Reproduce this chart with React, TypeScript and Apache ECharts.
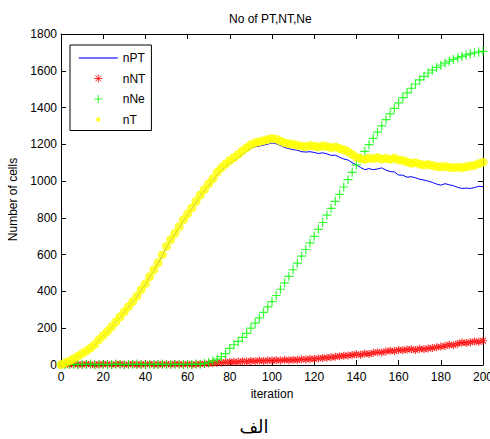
import React, { useEffect, useRef } from "react";
import * as echarts from "echarts";

const chartTitle = "No of PT,NT,Ne";
const xAxisName = "iteration";
const yAxisName = "Number of cells";
const caption = "الف";
const seriesNames = ["nPT", "nNT", "nNe", "nT"];
const xMin = 0;
const xMax = 200;
const xStep = 20;
const yMin = 0;
const yMax = 1800;
const yStep = 200;
const iterationStep = 2;

// values sampled every 2 iterations (0, 2, 4, ..., 200)
const nPT = [
  0, 10, 20, 32, 45, 60, 74, 90, 108, 135,
  157, 180, 205, 232, 258, 287, 315, 342, 372, 406,
  438, 476, 514, 552, 596, 640, 678, 712, 748, 785,
  818, 850, 886, 920, 948, 976, 1002, 1035, 1058, 1078,
  1096, 1110, 1128, 1145, 1163, 1176, 1187, 1190, 1196, 1201,
  1208, 1203, 1194, 1182, 1177, 1171, 1168, 1160, 1158, 1160,
  1156, 1150, 1154, 1148, 1140, 1141, 1130, 1120, 1115, 1100,
  1088, 1074, 1062, 1068, 1062, 1066, 1072, 1060, 1052, 1050,
  1033, 1032, 1021, 1024, 1018, 1010, 1006, 1000, 993, 984,
  978, 986, 980, 975, 966, 960, 962, 960, 965, 972,
  970,
];

const nNT = [
  2, 4, 1, 5, 3, 2, 6, 3, 1, 4,
  3, 5, 2, 4, 6, 2, 3, 5, 1, 4,
  3, 6, 2, 4, 3, 5, 2, 6, 4, 3,
  5, 2, 4, 6, 6, 8, 10, 12, 14, 15,
  16, 18, 17, 20, 19, 22, 21, 24, 22, 25,
  24, 26, 25, 28, 26, 29, 27, 31, 30, 33,
  34, 36, 38, 40, 42, 45, 48, 50, 52, 54,
  58, 56, 62, 60, 66, 70, 68, 74, 78, 76,
  82, 80, 84, 86, 82, 88, 86, 90, 92, 96,
  100, 104, 110, 108, 116, 122, 120, 124, 128, 126,
  132,
];

const nNe = [
  3, 2, 4, 3, 2, 4, 3, 5, 2, 3,
  4, 2, 3, 5, 3, 2, 4, 3, 5, 3,
  2, 4, 3, 3, 5, 2, 4, 3, 4, 3,
  4, 3, 5, 4, 8, 14, 22, 32, 46, 62,
  90, 110, 128, 150, 172, 200, 228, 256, 286, 316,
  345, 378, 412, 447, 482, 518, 554, 592, 628, 664,
  700, 738, 775, 815, 852, 890, 928, 968, 1008, 1048,
  1088, 1125, 1162, 1198, 1232, 1266, 1300, 1334, 1366, 1396,
  1425, 1454, 1480, 1505, 1528, 1550, 1570, 1588, 1604, 1618,
  1630, 1642, 1652, 1662, 1670, 1678, 1686, 1692, 1698, 1702,
  1706,
];

const nT = [
  2, 12, 22, 34, 48, 62, 76, 92, 112, 138,
  160, 183, 208, 235, 262, 290, 318, 345, 375, 410,
  442, 480, 518, 556, 600, 645, 682, 716, 752, 790,
  822, 855, 890, 924, 955, 985, 1013, 1048, 1072, 1093,
  1112, 1128, 1145, 1165, 1182, 1198, 1208, 1214, 1220, 1226,
  1232, 1228, 1218, 1208, 1203, 1200, 1195, 1190, 1188, 1193,
  1190, 1186, 1192, 1188, 1182, 1186, 1178, 1170, 1160, 1145,
  1130, 1122, 1118, 1125, 1122, 1128, 1120, 1124, 1118, 1125,
  1115, 1112, 1105, 1097, 1100, 1092, 1088, 1090, 1085, 1080,
  1078, 1080, 1075, 1073, 1076, 1072, 1078, 1082, 1086, 1095,
  1102,
];

const FONT = "'Liberation Sans', Arial, sans-serif";
const PLUS = "path://M0,-1L0,1M-1,0L1,0";
const STAR = "path://M0,-1L0,1M-1,0L1,0M-0.7,-0.7L0.7,0.7M-0.7,0.7L0.7,-0.7";
const LEGEND_LINE = "path://M0,-5M39,5M0,0L39,0";
const LEGEND_STAR = "path://M-1.25,-1.25M1.25,1.25M0,-1L0,1M-1,0L1,0M-0.7,-0.7L0.7,0.7M-0.7,0.7L0.7,-0.7";
const LEGEND_PLUS = "path://M-1.25,-1.25M1.25,1.25M0,-1L0,1M-1,0L1,0";
const LEGEND_DOT = "path://M-2.2,-2.2M2.2,2.2M0,-1A1,1,0,1,1,0,1A1,1,0,1,1,0,-1Z";

const pairs = (vals: number[]) => vals.map((v, i) => [i * iterationStep, v]);

export default function App() {
  const ref = useRef<HTMLDivElement>(null);
  useEffect(() => {
    if (!ref.current) return;
    const chart = echarts.init(ref.current, null, { renderer: "svg" });
    const axisCommon = {
      axisLine: { show: true, onZero: false, lineStyle: { color: "#000", width: 1 } },
      axisTick: { show: true, inside: true, length: 5, lineStyle: { color: "#000" } },
      splitLine: { show: false },
    };
    chart.setOption({
      animation: false,
      backgroundColor: "#fff",
      title: {
        text: chartTitle,
        left: 229,
        top: 13,
        padding: 0,
        textStyle: { fontFamily: FONT, fontSize: 12, fontWeight: "normal", color: "#000" },
      },
      grid: { left: 61, right: 7, top: 34, bottom: 74, containLabel: false, outerBoundsMode: "none" },
      legend: {
        orient: "vertical",
        left: 70,
        top: 45,
        padding: [7, 6, 5, 8],
        itemGap: 8.5,
        itemWidth: 39,
        itemHeight: 10,
        backgroundColor: "#fff",
        borderColor: "#000",
        borderWidth: 1,
        borderRadius: 0,
        textStyle: { fontFamily: FONT, fontSize: 12, color: "#000" },
        data: [
          { name: seriesNames[0], icon: LEGEND_LINE, itemStyle: { color: "transparent", borderColor: "#4040ff", borderWidth: 1.5 } },
          { name: seriesNames[1], icon: LEGEND_STAR, itemStyle: { color: "transparent", borderColor: "#ff0000", borderWidth: 1 } },
          { name: seriesNames[2], icon: LEGEND_PLUS, itemStyle: { color: "transparent", borderColor: "#00ff00", borderWidth: 1 } },
          { name: seriesNames[3], icon: LEGEND_DOT, itemStyle: { color: "#ffff00", borderWidth: 0 } },
        ],
      },
      xAxis: [
        {
          type: "value",
          min: xMin,
          max: xMax,
          interval: xStep,
          position: "bottom",
          name: xAxisName,
          nameLocation: "middle",
          nameGap: 21,
          nameTextStyle: { fontFamily: FONT, fontSize: 12, color: "#000" },
          axisLabel: { fontFamily: FONT, fontSize: 12, color: "#000", margin: 6, formatter: (v: number) => String(v) },
          ...axisCommon,
        },
        {
          type: "value",
          min: xMin,
          max: xMax,
          interval: xStep,
          position: "top",
          axisLabel: { show: false },
          ...axisCommon,
        },
      ],
      yAxis: [
        {
          type: "value",
          min: yMin,
          max: yMax,
          interval: yStep,
          position: "left",
          name: yAxisName,
          nameLocation: "middle",
          nameGap: 40,
          nameTextStyle: { fontFamily: FONT, fontSize: 12, color: "#000" },
          axisLabel: { fontFamily: FONT, fontSize: 12, color: "#000", margin: 4, formatter: (v: number) => String(v) },
          ...axisCommon,
        },
        {
          type: "value",
          min: yMin,
          max: yMax,
          interval: yStep,
          position: "right",
          axisLabel: { show: false },
          ...axisCommon,
        },
      ],
      series: [
        {
          name: seriesNames[0],
          type: "line",
          z: 2,
          data: pairs(nPT),
          symbol: "none",
          showSymbol: false,
          lineStyle: { color: "#0000ff", width: 1 },
          itemStyle: { color: "#0000ff" },
          silent: true,
        },
        {
          name: seriesNames[1],
          type: "scatter",
          z: 3,
          data: pairs(nNT),
          symbol: STAR,
          symbolSize: 8,
          itemStyle: { color: "transparent", borderColor: "#ff0000", borderWidth: 1.2 },
          silent: true,
        },
        {
          name: seriesNames[2],
          type: "scatter",
          z: 4,
          data: pairs(nNe),
          symbol: PLUS,
          symbolSize: 9,
          itemStyle: { color: "transparent", borderColor: "#00ff00", borderWidth: 1.2 },
          silent: true,
        },
        {
          name: seriesNames[3],
          type: "scatter",
          z: 5,
          data: pairs(nT),
          symbol: "circle",
          symbolSize: 9,
          itemStyle: { color: "#ffff00", borderWidth: 0 },
          silent: true,
        },
      ],
      graphic: [
        {
          type: "text",
          x: 254,
          y: 426,
          style: {
            text: caption,
            fontFamily: "'DejaVu Sans', sans-serif",
            fontSize: 18,
            fill: "#000",
            align: "center",
            verticalAlign: "middle",
          },
        },
      ],
    });
    return () => chart.dispose();
  }, []);
  return (
    <div
      ref={ref}
      style={{ position: "fixed", left: 0, top: 0, width: 490, height: 439, background: "#fff" }}
    />
  );
}
